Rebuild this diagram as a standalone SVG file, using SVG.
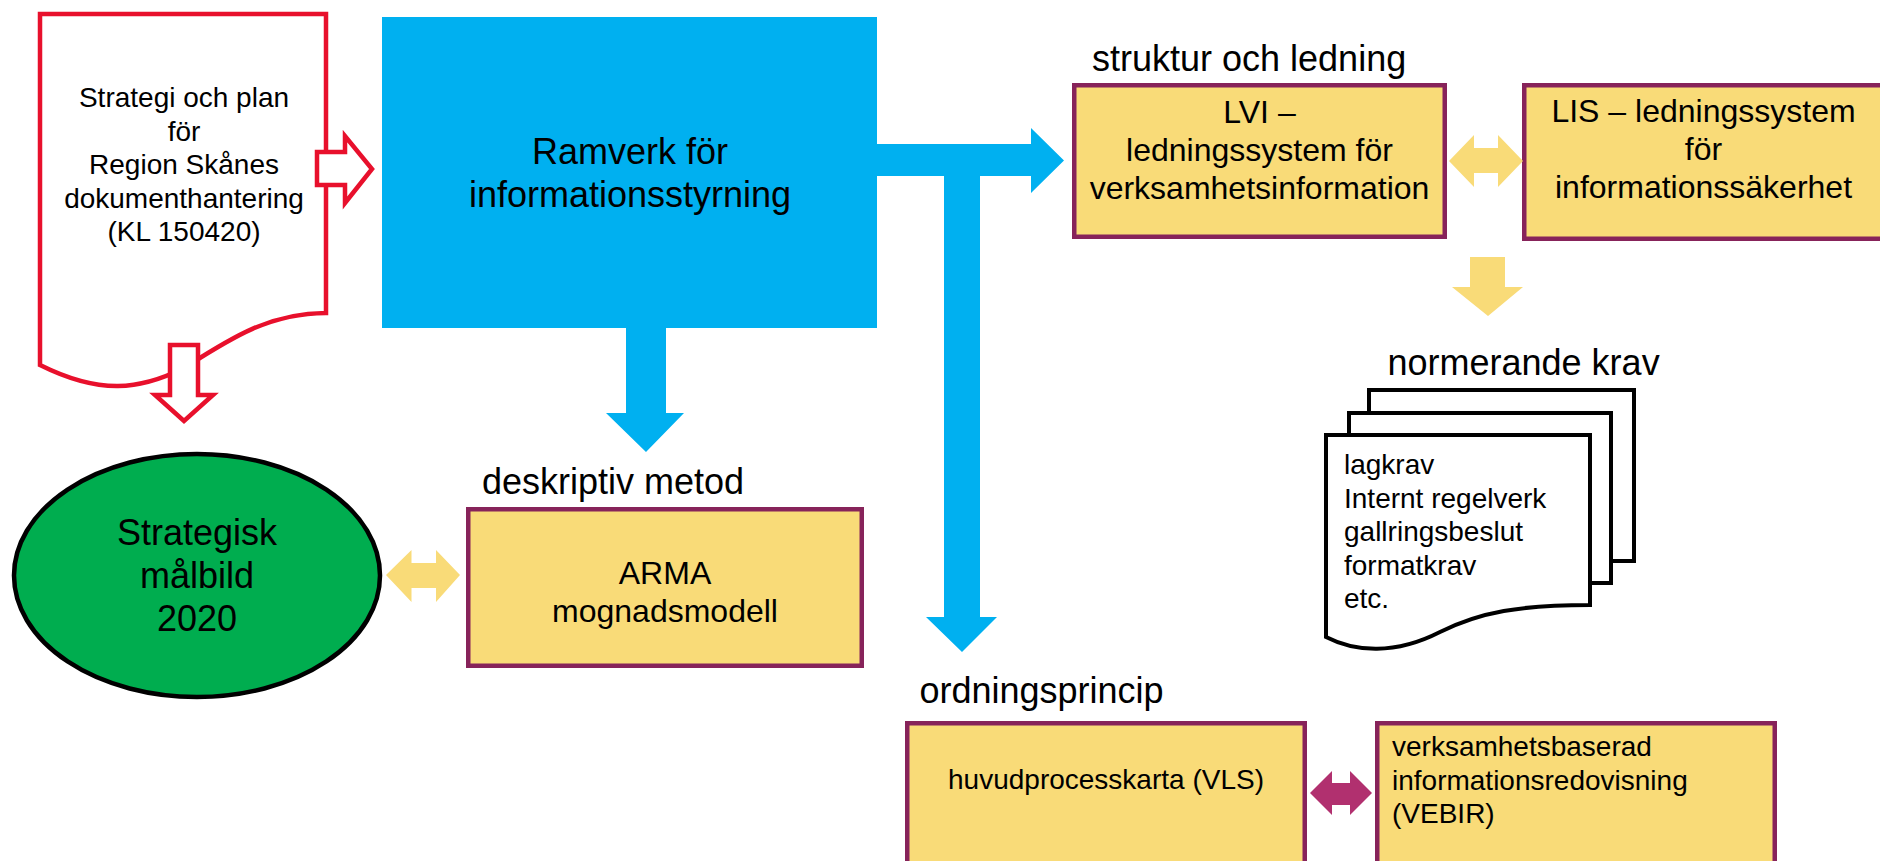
<svg xmlns="http://www.w3.org/2000/svg" width="1880" height="861" viewBox="0 0 1880 861">
<style>
text{font-family:"Liberation Sans",Arial,sans-serif;fill:#000}
.t36{font-size:36px}
.t32{font-size:32px}
.t28{font-size:28px}
.mid{text-anchor:middle}
.box{fill:#F9DB78;stroke:#87235A;stroke-width:4.5}
.page{fill:#fff;stroke:#000;stroke-width:4;stroke-linejoin:miter}
.redout{fill:#fff;stroke:#E8102C;stroke-width:4.5;stroke-linejoin:miter}
.blue{fill:#00B0F0}
.yel{fill:#F9DB78}
.mag{fill:#B1306F}
</style>
<rect width="1880" height="861" fill="#fff"/>

<g id="strategi-doc">
<path class="redout" d="M40,14 L326,14 L326,313 C 268,313 228,340 184,368 C 140,390 100,395 40,365 Z"/>
<text class="t28 mid" x="184" y="107">Strategi och plan</text>
<text class="t28 mid" x="184" y="140.5">för</text>
<text class="t28 mid" x="184" y="174">Region Skånes</text>
<text class="t28 mid" x="184" y="207.5">dokumenthantering</text>
<text class="t28 mid" x="184" y="241">(KL 150420)</text>
</g>

<g id="ramverk">
<rect class="blue" x="382" y="17" width="495" height="311"/>
<text class="t36 mid" x="630" y="164">Ramverk för</text>
<text class="t36 mid" x="630" y="207">informationsstyrning</text>
</g>

<g id="malbild">
<ellipse cx="197" cy="575.5" rx="183" ry="121.5" fill="#00AD4F" stroke="#000" stroke-width="4.5"/>
<text class="t36 mid" x="197" y="545">Strategisk</text>
<text class="t36 mid" x="197" y="588">målbild</text>
<text class="t36 mid" x="197" y="631">2020</text>
</g>

<g id="arma">
<text class="t36" x="482" y="494">deskriptiv metod</text>
<rect class="box" x="468.25" y="509.25" width="393.5" height="156.5"/>
<text class="t32 mid" x="665" y="584">ARMA</text>
<text class="t32 mid" x="665" y="622">mognadsmodell</text>
</g>

<g id="lvi">
<text class="t36" x="1092" y="71">struktur och ledning</text>
<rect class="box" x="1074.25" y="85.25" width="370.5" height="151.5"/>
<text class="t32 mid" x="1259.5" y="123">LVI –</text>
<text class="t32 mid" x="1259.5" y="161">ledningssystem för</text>
<text class="t32 mid" x="1259.5" y="199">verksamhetsinformation</text>
</g>

<g id="lis">
<rect class="box" x="1524.25" y="85.25" width="400" height="153.5"/>
<text class="t32 mid" x="1703.5" y="122">LIS – ledningssystem</text>
<text class="t32 mid" x="1703.5" y="160">för</text>
<text class="t32 mid" x="1703.5" y="198">informationssäkerhet</text>
</g>

<g id="normerande-krav">
<text class="t36" x="1387.5" y="375">normerande krav</text>
<rect class="page" x="1369" y="390" width="265" height="171"/>
<rect class="page" x="1349" y="413" width="262" height="170"/>
<path class="page" d="M1326,435 L1590,435 L1590,605 C 1520,605 1480,612 1440,632 C 1395,655 1355,652 1326,637 Z"/>
<text class="t28" x="1344" y="474">lagkrav</text>
<text class="t28" x="1344" y="507.5">Internt regelverk</text>
<text class="t28" x="1344" y="541">gallringsbeslut</text>
<text class="t28" x="1344" y="575">formatkrav</text>
<text class="t28" x="1344" y="608">etc.</text>
</g>

<g id="huvudprocesskarta">
<text class="t36" x="919.5" y="703">ordningsprincip</text>
<rect class="box" x="907.25" y="723.25" width="397.5" height="200"/>
<text class="t28 mid" x="1106" y="789">huvudprocesskarta (VLS)</text>
</g>

<g id="vebir">
<rect class="box" x="1377.25" y="723.25" width="397.5" height="200"/>
<text class="t28" x="1392" y="756">verksamhetsbaserad</text>
<text class="t28" x="1392" y="790">informationsredovisning</text>
<text class="t28" x="1392" y="823">(VEBIR)</text>
</g>

<g id="connectors">
<polygon class="redout" points="317,152 345,152 345,136 372,169 345,203 345,185 317,185"/>
<polygon class="redout" points="170,345 198,345 198,395 213,395 184,421 155,395 170,395"/>
<polygon class="blue" points="626,326 666,326 666,413 684,413 646,452 606,413 626,413"/>
<polygon class="blue" points="875,144 1031,144 1031,128 1064,160.5 1031,193 1031,176 980,176 980,617 997,617 962,652 926,617 944,617 944,176 875,176"/>
<polygon class="yel" points="386,575 411.5,550 411.5,563 436,563 436,550 460,575 436,602 436,588 411.5,588 411.5,602"/>
<polygon class="yel" points="1449,161 1474,135 1474,148 1498,148 1498,135 1523,161 1498,187 1498,173 1474,173 1474,187"/>
<polygon class="yel" points="1470,257 1505,257 1505,287 1523,287 1488,316 1452,287 1470,287"/>
<polygon class="mag" points="1310,793 1332,771 1332,783 1350,783 1350,771 1372,793 1350,815 1350,805 1332,805 1332,815"/>
</g>
</svg>
